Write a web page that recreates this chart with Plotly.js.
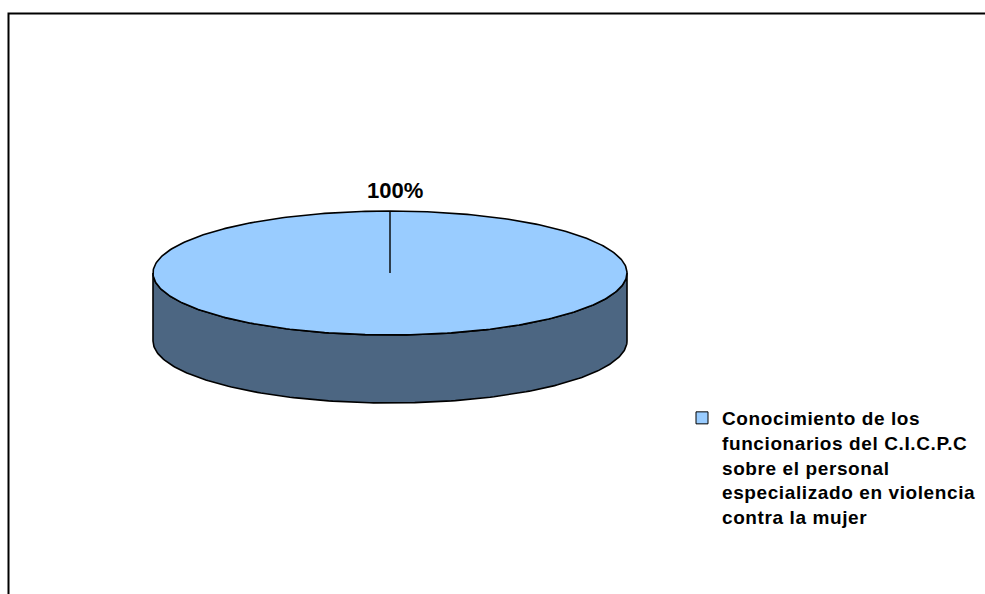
<!DOCTYPE html>
<html>
<head>
<meta charset="utf-8">
<script src="https://cdn.plot.ly/plotly-3.0.1.min.js"></script>
<style>
html,body{margin:0;padding:0;background:#fff;}
#chart{width:985px;height:594px;}
.legendtext{letter-spacing:0.6px;}
</style>
</head>
<body>
<div id="chart"></div>
<script>
// ---- data ----
var categories = ["Conocimiento de los<br>funcionarios del C.I.C.P.C<br>sobre el personal<br>especializado en violencia<br>contra la mujer"];
var values = [100];
var valueLabels = ["100%"];

// ---- 3D pie geometry (pixel space, 1:1 axes) ----
var cx = 390, cy = 273, rx = 237, ry = 62, depth = 68;
var total = values.reduce(function(a,b){return a+b;},0);
var startDeg = 0; // 12 o'clock, clockwise
function pt(deg, dy){
  var t = deg*Math.PI/180;
  return [cx + rx*Math.sin(t), cy - ry*Math.cos(t) + (dy||0)];
}
var traces = [];
var annotations = [];
var shapes = [];
var acc = 0;
values.forEach(function(v, i){
  var a0 = startDeg + 360*acc/total;
  var a1 = startDeg + 360*(acc+v)/total;
  acc += v;
  // side (front visible part: 90..270 deg)
  var s0 = Math.max(a0, 90), s1 = Math.min(a1, 270);
  if (s1 > s0){
    var sx=[], sy=[];
    for (var d=s0; d<=s1+1e-9; d+=1){ var p=pt(d,0); sx.push(p[0]); sy.push(p[1]); }
    for (var d2=s1; d2>=s0-1e-9; d2-=1){ var q=pt(d2,depth); sx.push(q[0]); sy.push(q[1]); }
    sx.push(sx[0]); sy.push(sy[0]);
    traces.push({type:'scatter', mode:'lines', x:sx, y:sy, fill:'toself',
      fillcolor:'#4C6682', line:{color:'#000', width:1.6}, showlegend:false, hoverinfo:'skip'});
  }
  // top face
  var tx=[], ty=[];
  var full = (a1-a0) >= 360;
  if (!full){ tx.push(cx); ty.push(cy); }
  for (var d3=a0; d3<=a1+1e-9; d3+=1){ var r=pt(d3,0); tx.push(r[0]); ty.push(r[1]); }
  if (!full){ tx.push(cx); ty.push(cy); }
  traces.push({type:'scatter', mode:'lines', x:tx, y:ty, fill:'toself',
    fillcolor:'#99CCFF', line:{color:'#000', width:1.6}, showlegend:false, hoverinfo:'skip'});
  // leader line + label (at start angle for a full slice)
  var la = full ? a0 : (a0+a1)/2;
  var edge = pt(la,0);
  traces.push({type:'scatter', mode:'lines', x:[cx, edge[0]], y:[cy, edge[1]],
    line:{color:'#000', width:1.4}, showlegend:false, hoverinfo:'skip'});
  annotations.push({x:edge[0], y:edge[1]-21, xref:'x', yref:'y', xshift:5, text:'<b>'+valueLabels[i]+'</b>',
    showarrow:false, font:{family:'Liberation Sans, Arial, sans-serif', size:22, color:'#000'}});
  // legend entry
  traces.push({type:'scatter', mode:'markers', x:[null], y:[null], name:'<b>'+categories[i]+'</b>',
    marker:{symbol:'square', size:12, color:'#99CCFF', line:{color:'#000', width:1}}, showlegend:true});
});

// chart area border
shapes.push({type:'rect', xref:'x', yref:'y', x0:8.5, y0:13.5, x1:1000, y1:620,
  line:{color:'#000', width:2}, fillcolor:'rgba(0,0,0,0)', layer:'below'});

var layout = {
  width:985, height:594,
  margin:{l:0, r:0, t:0, b:0},
  paper_bgcolor:'#fff', plot_bgcolor:'#fff',
  xaxis:{range:[0,985], visible:false, fixedrange:true},
  yaxis:{range:[594,0], visible:false, fixedrange:true},
  showlegend:true,
  legend:{x:682/985, y:1-(399/594), xanchor:'left', yanchor:'top', valign:'top',
    font:{family:'Liberation Sans, Arial, sans-serif', size:19, color:'#000'},
    bgcolor:'rgba(0,0,0,0)', borderwidth:0},
  annotations:annotations,
  shapes:shapes
};
Plotly.newPlot('chart', traces, layout, {displayModeBar:false, staticPlot:true});
</script>
</body>
</html>
